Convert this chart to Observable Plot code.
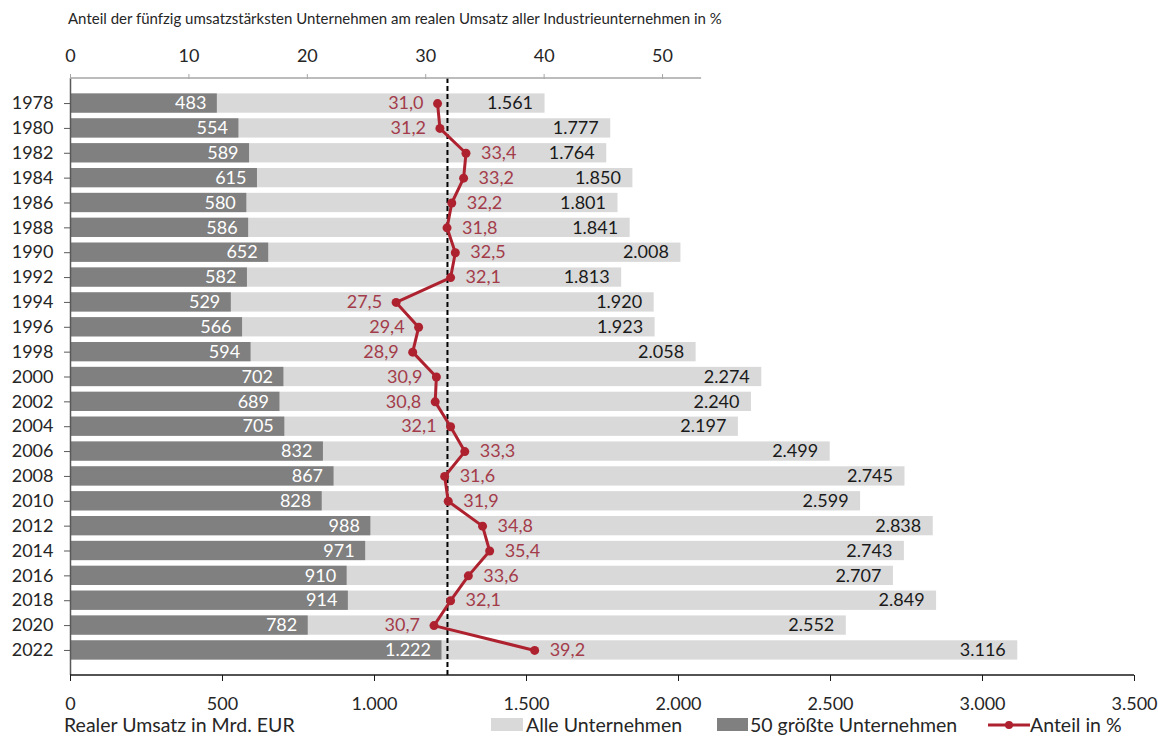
<!DOCTYPE html>
<html>
<head>
<meta charset="utf-8">
<script src="https://cdn.jsdelivr.net/npm/d3@7"></script>
<script src="https://cdn.jsdelivr.net/npm/@observablehq/plot@0.6"></script>
<style>
  html, body { margin: 0; padding: 0; background: #fff; }
  body { position: relative; font-family: Lato, "Open Sans", sans-serif; color: #262626; width: 1158px; height: 736px; overflow: hidden; }
  #title { height: 36px; line-height: 36px; padding-left: 68px; font-size: 15px; white-space: nowrap; }
  #chart svg { display: block; }
  #legend { position: absolute; left: 0; top: 714px; width: 1158px; height: 22px; line-height: 22px; font-size: 19.5px; }
  #legend .it { position: absolute; top: 0; height: 22px; white-space: nowrap; }
  #legend .sw { position: absolute; top: 4px; height: 13px; }
</style>
</head>
<body>
<div id="title">Anteil der fünfzig umsatzstärksten Unternehmen am realen Umsatz aller Industrieunternehmen in %</div>
<div id="chart"></div>
<div id="legend"></div>
<script>
// ---- data ----
const years = ["1978","1980","1982","1984","1986","1988","1990","1992","1994","1996","1998","2000",
               "2002","2004","2006","2008","2010","2012","2014","2016","2018","2020","2022"];
const totalSales = [1561,1777,1764,1850,1801,1841,2008,1813,1920,1923,2058,2274,
                    2240,2197,2499,2745,2599,2838,2743,2707,2849,2552,3116];
const top50Sales = [483,554,589,615,580,586,652,582,529,566,594,702,
                    689,705,832,867,828,988,971,910,914,782,1222];
const sharePct = [31.0,31.2,33.4,33.2,32.2,31.8,32.5,32.1,27.5,29.4,28.9,30.9,
                  30.8,32.1,33.3,31.6,31.9,34.8,35.4,33.6,32.1,30.7,39.2];
const shareLabelSide = ["l","l","r","r","r","r","r","r","l","l","l","l",
                        "l","l","r","r","r","r","r","r","r","l","r"];
const salesTicks = [0,500,1000,1500,2000,2500,3000,3500];
const shareTicks = [0,10,20,30,40,50];
const shareAxisMax = 53.3;      // end of the upper axis line (%)
const salesAxisMax = 3500;
// average share 1978-2020 (dashed reference line)
const avgShare = d3.mean(sharePct.slice(0, -1));

// ---- scales / helpers ----
const K = 38.95; // sales units per percentage point (secondary axis mapping)
const de = d3.formatLocale({decimal: ",", thousands: ".", grouping: [3], currency: ["", "€"]});
const fmtInt = de.format(",d");
const fmtDec = de.format(".1f");

const rows = years.map((y, i) => ({
  year: y, total: totalSales[i], top50: top50Sales[i], share: sharePct[i], side: shareLabelSide[i]
}));

const RED = "#ae2230";
const RED_TXT = "#a33c4a";
const FS = 18;

function axisLines(index, scales, values, dims) {
  const x = scales.x;
  const g = d3.create("svg:g");
  const top = dims.marginTop;
  const bot = dims.height - dims.marginBottom;
  g.append("line").attr("x1", x(0)).attr("x2", x(shareAxisMax * K))
    .attr("y1", top).attr("y2", top).attr("stroke", "#a6a6a6").attr("stroke-width", 1.5);
  g.append("line").attr("x1", x(0)).attr("x2", x(salesAxisMax))
    .attr("y1", bot).attr("y2", bot).attr("stroke", "#1a1a1a").attr("stroke-width", 1.5);
  return g.node();
}

const chart = Plot.plot({
  width: 1158,
  height: 700,
  marginTop: 42,
  marginBottom: 61,
  marginLeft: 70,
  marginRight: 24,
  style: {fontFamily: "Lato, 'Open Sans', sans-serif", fontSize: FS + "px", background: "#fff", color: "#262626", overflow: "visible"},
  x: {domain: [0, salesAxisMax], axis: null},
  y: {domain: years, paddingInner: 0.224, paddingOuter: 0.62, round: false, axis: null},
  marks: [
    Plot.barX(rows, {x: "total", y: "year", fill: "#d9d9d9"}),
    Plot.barX(rows, {x: "top50", y: "year", fill: "#808080"}),
    Plot.ruleX([avgShare * K], {stroke: "#000", strokeWidth: 2, strokeDasharray: "5,3"}),
    Plot.text(rows, {x: "top50", y: "year", text: d => fmtInt(d.top50), textAnchor: "end", dx: -11, fill: "#fff", fontSize: FS}),
    Plot.text(rows, {x: "total", y: "year", text: d => fmtInt(d.total), textAnchor: "end", dx: -12, fill: "#1a1a1a", fontSize: FS}),
    Plot.line(rows, {x: d => d.share * K, y: "year", stroke: RED, strokeWidth: 3}),
    Plot.dot(rows, {x: d => d.share * K, y: "year", r: 4.5, fill: RED}),
    Plot.text(rows.filter(d => d.side === "l"), {x: d => d.share * K, y: "year", text: d => fmtDec(d.share), textAnchor: "end", dx: -14, fill: RED_TXT, fontSize: FS}),
    Plot.text(rows.filter(d => d.side === "r"), {x: d => d.share * K, y: "year", text: d => fmtDec(d.share), textAnchor: "start", dx: 15, fill: RED_TXT, fontSize: FS}),
    Plot.ruleX([0], {stroke: "#595959", strokeWidth: 1.5}),
    axisLines,
    Plot.axisY({tickSize: 6, tickPadding: 11, label: null, fontSize: FS, color: "#262626", stroke: "#595959"}),
    Plot.axisX(salesTicks, {anchor: "bottom", tickFormat: fmtInt, tickSize: 6, tickPadding: 16, label: null, fontSize: FS, color: "#262626", stroke: "#1a1a1a"}),
    Plot.axisX(shareTicks.map(p => p * K), {anchor: "top", tickFormat: d => String(Math.round(d / K)), tickSize: 5, tickPadding: 12, label: null, fontSize: FS, color: "#262626", stroke: "#a6a6a6"})
  ]
});
document.getElementById("chart").appendChild(chart);

// ---- legend row ----
const legend = d3.select("#legend");
legend.append("span").attr("class", "it").style("left", "64px").text("Realer Umsatz in Mrd. EUR");
legend.append("span").attr("class", "sw").style("left", "491px").style("width", "32px").style("background", "#d9d9d9");
legend.append("span").attr("class", "it").style("left", "526px").text("Alle Unternehmen");
legend.append("span").attr("class", "sw").style("left", "717px").style("width", "31px").style("background", "#808080");
legend.append("span").attr("class", "it").style("left", "750px").text("50 größte Unternehmen");
const ls = legend.append("svg").attr("width", 42).attr("height", 22)
  .style("position", "absolute").style("left", "988px").style("top", "0px");
ls.append("line").attr("x1", 0).attr("x2", 42).attr("y1", 11).attr("y2", 11).attr("stroke", RED).attr("stroke-width", 3);
ls.append("circle").attr("cx", 21).attr("cy", 11).attr("r", 4).attr("fill", RED);
legend.append("span").attr("class", "it").style("left", "1030px").text("Anteil in %");
</script>
</body>
</html>
